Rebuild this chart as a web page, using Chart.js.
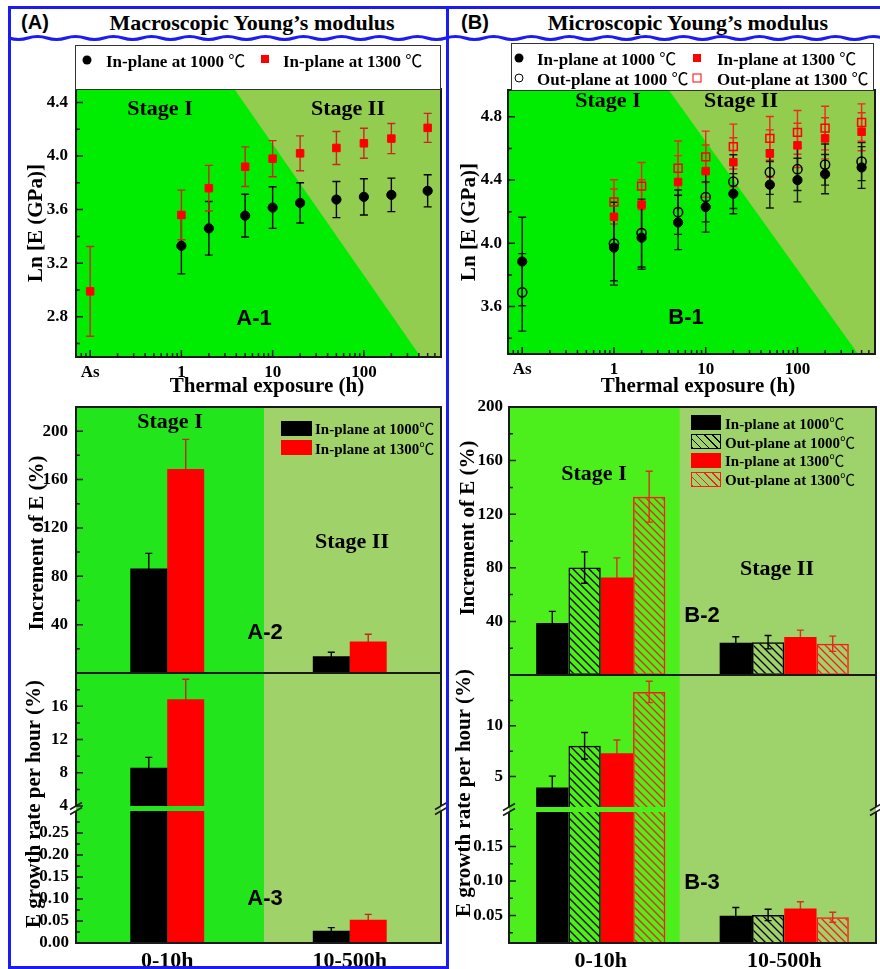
<!DOCTYPE html>
<html><head><meta charset="utf-8">
<title>Young's modulus evolution under thermal exposure</title>
<script src="https://cdn.jsdelivr.net/npm/chart.js@4.4.1/dist/chart.umd.min.js"></script>
<style>
html,body{margin:0;padding:0;background:#fff;}
body{position:relative;width:880px;height:969px;overflow:hidden;font-family:"Liberation Serif","Times New Roman",serif;}
canvas{position:absolute;z-index:1;}
.t{position:absolute;z-index:3;white-space:nowrap;font-weight:bold;color:#000;line-height:1;transform:translate(-50%,-50%);}
.v{transform:translate(-50%,-50%) rotate(-90deg);}
.sans{font-family:"Liberation Sans",Arial,sans-serif;}
.box{position:absolute;z-index:2;background:#fff;border:1.5px solid #333;box-sizing:border-box;}
.blue{position:absolute;z-index:4;background:#1c1cf2;}
.lg{position:absolute;z-index:3;font-weight:bold;white-space:nowrap;line-height:1;transform:translateY(-50%);color:#000;}
.mk{position:absolute;z-index:3;box-sizing:border-box;transform:translate(-50%,-50%);}
.sw{position:absolute;z-index:3;box-sizing:border-box;}
.deg{font-family:"Noto Sans CJK SC",sans-serif;font-weight:normal;}
</style></head><body>
<svg style="position:absolute;left:0;top:0;z-index:4" width="880" height="60">
  <path id="wave" fill="none" stroke="#1c1cf2" stroke-width="3"></path>
</svg>
<script>
// ---------- data ----------
const AS = 0.1; // as-received state, placed one decade below 1 h
const timeTicks = [AS, 1, 10, 100];
const timeMinor = [0.08, 0.09, 0.2, 0.3, 0.4, 0.5, 0.6, 0.7, 0.8, 0.9, 2, 3, 4, 5, 6, 7, 8, 9,
                   20, 30, 40, 50, 60, 70, 80, 90, 200, 300, 400, 500, 600];

// (A) macroscopic, ln E
const namesA = ['In-plane at 1000 ℃', 'In-plane at 1300 ℃'];
const hoursA1000 = [1, 2, 5, 10, 20, 50, 100, 200, 500];
const lnA1000 = [3.33, 3.46, 3.555, 3.615, 3.65, 3.675, 3.695, 3.71, 3.74];
const lnA1000Err = [0.21, 0.2, 0.16, 0.155, 0.15, 0.135, 0.135, 0.125, 0.12];
const hoursA1300 = [AS, 1, 2, 5, 10, 20, 50, 100, 200, 500];
const lnA1300 = [2.99, 3.56, 3.76, 3.92, 3.98, 4.02, 4.06, 4.095, 4.13, 4.21];
const lnA1300Err = [0.335, 0.185, 0.17, 0.148, 0.135, 0.13, 0.123, 0.112, 0.112, 0.108];

// (B) microscopic, ln E
const namesB = ['In-plane at 1000 ℃', 'Out-plane at 1000 ℃', 'In-plane at 1300 ℃', 'Out-plane at 1300 ℃'];
const hoursB1000 = [AS, 1, 2, 5, 10, 20, 50, 100, 200, 500];
const lnBIn1000 = [3.885, 3.973, 4.036, 4.132, 4.23, 4.314, 4.371, 4.40, 4.438, 4.48];
const lnBIn1000Err = [0.28, 0.21, 0.2, 0.172, 0.159, 0.127, 0.147, 0.138, 0.124, 0.132];
const lnBOut1000 = [3.69, 3.998, 4.065, 4.197, 4.293, 4.39, 4.45, 4.469, 4.498, 4.517];
const lnBOut1000Err = [0.245, 0.262, 0.215, 0.14, 0.157, 0.17, 0.14, 0.135, 0.13, 0.12];
const hoursB1300 = [1, 2, 5, 10, 20, 50, 100, 200, 500];
const lnBIn1300 = [4.168, 4.245, 4.388, 4.457, 4.513, 4.568, 4.62, 4.664, 4.706];
const lnBIn1300Err = [0.176, 0.157, 0.167, 0.165, 0.155, 0.15, 0.14, 0.13, 0.12];
const lnBOut1300 = [4.262, 4.362, 4.475, 4.547, 4.612, 4.664, 4.702, 4.729, 4.764];
const lnBOut1300Err = [0.14, 0.149, 0.172, 0.163, 0.142, 0.138, 0.138, 0.138, 0.118];

// increment of E (%) and growth rate per hour (%) by stage
const periods = ['0-10h', '10-500h'];
const namesA2 = ['In-plane at 1000℃', 'In-plane at 1300℃'];
const incA = [[86.4, 13.9], [168.7, 26]];
const incAErr = [[12.5, 3.3], [24.5, 6]];
const rateA = [[8.6, 0.028], [16.85, 0.053]];
const rateAErr = [[1.25, 0.007], [2.4, 0.012]];

const namesB2 = ['In-plane at 1000℃', 'Out-plane at 1000℃', 'In-plane at 1300℃', 'Out-plane at 1300℃'];
const incB = [[38.8, 24.05], [80.2, 24.5], [72.7, 28.3], [133.1, 23.3]];
const incBErr = [[8.7, 4.5], [11.7, 5], [14.7, 5.2], [19, 5.7]];
const rateB = [[3.91, 0.0497], [8.03, 0.0507], [7.3, 0.0599], [13.33, 0.0474]];
const rateBErr = [[1.13, 0.0117], [1.3, 0.0083], [1.3, 0.01], [1.05, 0.0073]];

// stage I / stage II boundaries (time at top and bottom of the ln E axis; category split)
const stageA1 = [3.8, 420];
const stageB1 = [3.96, 457];
const splitA = 0.53;
const splitB = 0.43;

// ---------- styling ----------
const SERIF = '"Liberation Serif", "Times New Roman", serif';
const BG_A1 = ['#00ec00', '#92cd50'];
const BG_A = ['#22e51b', '#9fd36a'];
const BG_B = ['#4cef1c', '#9dd36a'];

function hatch(color) {
  const s = 8, c = document.createElement('canvas');
  c.width = c.height = s;
  const g = c.getContext('2d');
  g.strokeStyle = color; g.lineWidth = 1.3;
  g.beginPath();
  g.moveTo(0, 0); g.lineTo(s, s);
  g.moveTo(-2, s - 2); g.lineTo(2, s + 2);
  g.moveTo(s - 2, -2); g.lineTo(s + 2, 2);
  g.stroke();
  return g.createPattern(c, 'repeat');
}
const hatchBlack = hatch('#000');
const hatchRed = hatch('#ff1a1a');

// background stages, error bars, frame, inward ticks, axis breaks
const deco = {
  id: 'deco',
  beforeDraw(chart, _a, o) {
    if (!o.bg) return;
    const {ctx, chartArea: a, scales: {x}} = chart;
    const bottom = a.bottom + (o.extend || 0);
    ctx.save();
    ctx.fillStyle = o.bg[0];
    ctx.fillRect(a.left, a.top, a.right - a.left, bottom - a.top);
    ctx.fillStyle = o.bg[1];
    ctx.beginPath();
    if (o.diagonal) {
      const xt = x.getPixelForValue(o.diagonal[0]);
      const xb = x.getPixelForValue(o.diagonal[1]);
      ctx.moveTo(xt, a.top); ctx.lineTo(a.right, a.top);
      ctx.lineTo(a.right, a.bottom); ctx.lineTo(xb, a.bottom);
      ctx.closePath();
    } else {
      const xs = x.getPixelForValue(o.split);
      ctx.rect(xs, a.top, a.right - xs, bottom - a.top);
    }
    ctx.fill();
    ctx.restore();
  },
  beforeDatasetsDraw(chart, _a, o) {
    const {ctx, chartArea: a, scales: {y}} = chart;
    ctx.save();
    ctx.beginPath();
    ctx.rect(a.left, a.top, a.right - a.left, a.bottom - a.top);
    ctx.clip();
    chart.data.datasets.forEach((ds, i) => {
      if (!ds.errors) return;
      const meta = chart.getDatasetMeta(i);
      ctx.strokeStyle = ds.errColor;
      ctx.lineWidth = o.errWidth || 1.4;
      const c = o.cap || 4;
      meta.data.forEach((el, j) => {
        const d = ds.data[j];
        const v = typeof d === 'number' ? d : d.y;
        const e = ds.errors[j];
        const yt = y.getPixelForValue(v + e), yb = y.getPixelForValue(v - e), cx = el.x;
        ctx.beginPath();
        ctx.moveTo(cx, yt); ctx.lineTo(cx, yb);
        ctx.moveTo(cx - c, yt); ctx.lineTo(cx + c, yt);
        ctx.moveTo(cx - c, yb); ctx.lineTo(cx + c, yb);
        ctx.stroke();
      });
    });
    ctx.restore();
  },
  afterDatasetsDraw(chart, _a, o) {
    const {ctx, chartArea: a, scales: {x, y}} = chart;
    const sides = o.sides || 'tlbr';
    ctx.save();
    ctx.strokeStyle = '#1a1a1a';
    ctx.lineWidth = 2;
    ctx.beginPath();
    if (sides.includes('t')) { ctx.moveTo(a.left - 1, a.top); ctx.lineTo(a.right + 1, a.top); }
    if (sides.includes('b')) { ctx.moveTo(a.left - 1, a.bottom); ctx.lineTo(a.right + 1, a.bottom); }
    if (sides.includes('l')) { ctx.moveTo(a.left, a.top); ctx.lineTo(a.left, a.bottom); }
    if (sides.includes('r')) { ctx.moveTo(a.right, a.top); ctx.lineTo(a.right, a.bottom); }
    ctx.stroke();
    ctx.lineWidth = 1.5;
    ctx.beginPath();
    const yMajor = o.yMajor || [];
    y.ticks.forEach(t => {
      const py = y.getPixelForValue(t.value);
      const len = yMajor.includes(t.value) ? 7 : 4;
      ctx.moveTo(a.left, py); ctx.lineTo(a.left + len, py);
    });
    (o.xMajor || []).forEach(v => {
      const px = x.getPixelForValue(v);
      ctx.moveTo(px, a.bottom); ctx.lineTo(px, a.bottom - 7);
    });
    (o.xMinor || []).forEach(v => {
      const px = x.getPixelForValue(v);
      ctx.moveTo(px, a.bottom); ctx.lineTo(px, a.bottom - 4);
    });
    ctx.stroke();
    if (o.breakGap) {
      const yc = a.top - o.breakGap / 2;
      ctx.lineWidth = 1.6;
      ctx.beginPath();
      [a.left, a.right].forEach(px => {
        for (const dy of [-2.5, 2.5]) {
          ctx.moveTo(px - 6, yc + dy + 3.5); ctx.lineTo(px + 6, yc + dy - 3.5);
        }
      });
      ctx.stroke();
    }
    ctx.restore();
  }
};
Chart.register(deco);

function place(plot, axW, axH, padTop, padRight, config) {
  const [l, t, r, b] = plot;
  const w = axW + (r - l) + padRight, h = padTop + (b - t) + axH;
  const cv = document.createElement('canvas');
  cv.width = w; cv.height = h;
  cv.style.left = (l - axW) + 'px';
  cv.style.top = (t - padTop) + 'px';
  cv.style.width = w + 'px';
  cv.style.height = h + 'px';
  document.body.appendChild(cv);
  config.options.layout = {autoPadding: false, padding: {top: padTop, right: padRight, left: 0, bottom: 0}};
  return new Chart(cv, config);
}

function opts(scales, decoOpts) {
  return {
    responsive: false, animation: false, events: [],
    plugins: {legend: {display: false}, tooltip: {enabled: false}, deco: decoOpts},
    scales
  };
}

// axis sizes are fixed so that every plot area lands on its own frame
function fixY(w) {
  return s => { s.width = w; s.paddingTop = 0; s.paddingBottom = 0; };
}
function fixX(h) {
  return s => { s.height = h; s.paddingLeft = 0; s.paddingRight = 0; };
}

function yAxis(min, max, major, minor, w, pad, fmt) {
  const all = major.concat(minor).sort((p, q) => p - q);
  return {
    type: 'linear', position: 'left', min, max,
    afterFit: fixY(w),
    afterBuildTicks: s => { s.ticks = all.map(v => ({value: v})); },
    grid: {display: false, drawTicks: false}, border: {display: false},
    ticks: {callback: v => major.includes(v) ? fmt(v) : '', autoSkip: false, padding: pad,
            color: '#000', font: {family: SERIF, size: 17, weight: 'bold'}}
  };
}

function logAxis(h) {
  return {
    type: 'logarithmic', position: 'bottom', min: 0.07, max: 700,
    afterFit: fixX(h),
    afterBuildTicks: s => { s.ticks = timeTicks.map(v => ({value: v})); },
    grid: {display: false, drawTicks: false}, border: {display: false},
    ticks: {callback: v => v === AS ? 'As' : String(v), autoSkip: false, maxRotation: 0, padding: 5,
            color: '#000', font: {family: SERIF, size: 17, weight: 'bold'}}
  };
}

function catAxis(h, show) {
  return {
    type: 'category', position: 'bottom', offset: true,
    afterFit: fixX(h),
    grid: {display: false, drawTicks: false}, border: {display: false},
    ticks: {display: show, autoSkip: false, maxRotation: 0, padding: 5,
            color: '#000', font: {family: SERIF, size: 22, weight: 'bold'}}
  };
}

const pts = (xs, ys) => xs.map((v, i) => ({x: v, y: ys[i]}));
const f1 = v => v.toFixed(1);
const f2 = v => v.toFixed(2);
const f0 = v => String(v);

// ---------- A-1 ----------
const yA1 = [2.8, 3.2, 3.6, 4.0, 4.4];
place([76, 89, 441, 357], 76, 30, 12, 6, {
  type: 'scatter',
  data: {datasets: [
    {label: namesA[0], data: pts(hoursA1000, lnA1000), errors: lnA1000Err, errColor: '#000',
     pointStyle: 'circle', pointRadius: 4.6, backgroundColor: '#000', borderColor: '#000'},
    {label: namesA[1], data: pts(hoursA1300, lnA1300), errors: lnA1300Err, errColor: '#c8281e',
     pointStyle: 'rect', pointRadius: 5.3, backgroundColor: '#ff0000', borderColor: '#ff0000'}
  ]},
  options: opts({x: logAxis(30), y: yAxis(2.5, 4.5, yA1, [2.6, 3.0, 3.4, 3.8, 4.2], 76, 8, f1)},
    {bg: BG_A1, diagonal: stageA1, yMajor: yA1, xMajor: timeTicks, xMinor: timeMinor, cap: 4})
});

// ---------- B-1 ----------
const yB1 = [3.6, 4.0, 4.4, 4.8];
place([508, 90, 875, 354], 62, 30, 12, 5, {
  type: 'scatter',
  data: {datasets: [
    {label: namesB[3], data: pts(hoursB1300, lnBOut1300), errors: lnBOut1300Err, errColor: '#ee2a1e',
     pointStyle: 'rect', pointRadius: 5.6, pointBorderWidth: 1.5, backgroundColor: 'rgba(0,0,0,0)', borderColor: '#ff0000'},
    {label: namesB[2], data: pts(hoursB1300, lnBIn1300), errors: lnBIn1300Err, errColor: '#ee2a1e',
     pointStyle: 'rect', pointRadius: 5.3, backgroundColor: '#ff0000', borderColor: '#ff0000'},
    {label: namesB[1], data: pts(hoursB1000, lnBOut1000), errors: lnBOut1000Err, errColor: '#101810',
     pointStyle: 'circle', pointRadius: 4.6, pointBorderWidth: 1.5, backgroundColor: 'rgba(0,0,0,0)', borderColor: '#000'},
    {label: namesB[0], data: pts(hoursB1000, lnBIn1000), errors: lnBIn1000Err, errColor: '#101810',
     pointStyle: 'circle', pointRadius: 4.6, backgroundColor: '#000', borderColor: '#000'}
  ]},
  options: opts({x: logAxis(30), y: yAxis(3.3, 4.97, yB1, [3.4, 3.8, 4.2, 4.6], 62, 6, f1)},
    {bg: BG_A1, diagonal: stageB1, yMajor: yB1, xMajor: timeTicks, xMinor: timeMinor, cap: 4})
});

// ---------- bar panels ----------
const solidA = [
  {backgroundColor: '#000', errColor: '#000'},
  {backgroundColor: '#ff0000', errColor: '#c0281c'}
];
const styleB = [
  {backgroundColor: '#000', borderWidth: 0, errColor: '#000'},
  {backgroundColor: hatchBlack, borderColor: '#000', borderWidth: 1.5, errColor: '#000'},
  {backgroundColor: '#ff0000', borderWidth: 0, errColor: '#d83020'},
  {backgroundColor: hatchRed, borderColor: '#ff1a1a', borderWidth: 1.5, errColor: '#d83020'}
];

function barSets(names, vals, errs, styles, catPct) {
  return names.map((n, i) => Object.assign({
    label: n, data: vals[i], errors: errs[i],
    categoryPercentage: catPct, barPercentage: 1, borderSkipped: false
  }, styles[i]));
}

// A-2
const yA2 = [40, 80, 120, 160, 200];
place([76, 407, 441, 673], 76, 0, 12, 6, {
  type: 'bar',
  data: {labels: periods, datasets: barSets(namesA2, incA, incAErr, solidA, 0.405)},
  options: opts({x: catAxis(0, false), y: yAxis(0, 220, yA2, [20, 60, 100, 140, 180], 76, 8, f0)},
    {bg: BG_A, split: splitA, yMajor: yA2, cap: 3.5})
});
// A-3 upper segment
const yA3u = [4, 8, 12, 16];
place([76, 673, 441, 806], 76, 5, 12, 6, {
  type: 'bar',
  data: {labels: periods, datasets: barSets(namesA2, rateA, rateAErr, solidA, 0.405)},
  options: opts({x: catAxis(5, false), y: yAxis(4, 20, yA3u, [6, 10, 14, 18], 76, 8, f0)},
    {bg: BG_A, split: splitA, extend: 5, sides: 'tlr', yMajor: yA3u, cap: 3.5})
});
// A-3 lower segment
const yA3l = [0, 0.05, 0.1, 0.15, 0.2, 0.25];
place([76, 811, 441, 943], 76, 30, 12, 6, {
  type: 'bar',
  data: {labels: periods, datasets: barSets(namesA2, rateA, rateAErr, solidA, 0.405)},
  options: opts({x: catAxis(30, true),
    y: yAxis(0, 0.3, yA3l, [0.025, 0.075, 0.125, 0.175, 0.225, 0.275], 76, 7, f2)},
    {bg: BG_A, split: splitA, sides: 'lbr', breakGap: 5, yMajor: yA3l, cap: 3.5})
});

// B-2
const yB2 = [40, 80, 120, 160, 200];
place([509, 407, 876, 675], 62, 0, 12, 4, {
  type: 'bar',
  data: {labels: periods, datasets: barSets(namesB2, incB, incBErr, styleB, 0.704)},
  options: opts({x: catAxis(0, false), y: yAxis(0, 200, yB2, [20, 60, 100, 140, 180], 62, 6, f0)},
    {bg: BG_B, split: splitB, yMajor: yB2, cap: 3.5})
});
// B-3 upper segment
const yB3u = [5, 10];
place([509, 675, 876, 807], 62, 5, 12, 4, {
  type: 'bar',
  data: {labels: periods, datasets: barSets(namesB2, rateB, rateBErr, styleB, 0.704)},
  options: opts({x: catAxis(5, false), y: yAxis(2, 15, yB3u, [7.5, 12.5], 62, 6, f0)},
    {bg: BG_B, split: splitB, extend: 5, sides: 'tlr', yMajor: yB3u, cap: 3.5})
});
// B-3 lower segment
const yB3l = [0.05, 0.1, 0.15];
place([509, 812, 876, 943], 62, 30, 12, 4, {
  type: 'bar',
  data: {labels: periods, datasets: barSets(namesB2, rateB, rateBErr, styleB, 0.704)},
  options: opts({x: catAxis(30, true), y: yAxis(0.01, 0.2, yB3l, [0.025, 0.075, 0.125, 0.175], 62, 6, f2)},
    {bg: BG_B, split: splitB, sides: 'lbr', breakGap: 5, yMajor: yB3l, cap: 3.5})
});

// ---------- text, legends, frame ----------
function el(cls, html, css) {
  const d = document.createElement('div');
  d.className = cls;
  d.innerHTML = html.replace(/℃/g, '<span class="deg">℃</span>');
  d.style.cssText = css;
  document.body.appendChild(d);
  return d;
}
const txt = (s, x, y, size, extra = '') => el('t ' + extra, s, `left:${x}px;top:${y}px;font-size:${size}px`);

// headers
txt('(A)', 35, 22, 20, 'sans');
txt('Macroscopic Young’s modulus', 252, 23, 22);
txt('(B)', 475, 22, 20, 'sans');
txt('Microscopic Young’s modulus', 688, 23, 22);

// axis titles
txt('Ln [E (GPa)]', 35, 223, 21, 'v');
txt('Ln [E (GPa)]', 468, 222, 21, 'v');
txt('Thermal exposure (h)', 267, 385, 21);
txt('Thermal exposure (h)', 698, 385, 21);
txt('Increment of E (%)', 36, 543, 21, 'v');
txt('Increment of E (%)', 467, 528, 21, 'v');
txt('E growth rate per hour (%)', 33, 804, 21, 'v');
txt('E growth rate per hour (%)', 463, 793, 21, 'v');

// stage labels
txt('Stage I', 160, 108, 22); txt('Stage II', 348, 108, 22);
txt('Stage I', 608, 100, 22); txt('Stage II', 741, 100, 22);
txt('Stage I', 170, 421, 22); txt('Stage II', 352, 541, 22);
txt('Stage I', 594, 473, 22); txt('Stage II', 777, 568, 22);

// panel tags
txt('A-1', 254, 318, 22, 'sans'); txt('B-1', 686, 317, 22, 'sans');
txt('A-2', 265, 632, 22, 'sans'); txt('B-2', 702, 615, 22, 'sans');
txt('A-3', 265, 898, 22, 'sans'); txt('B-3', 702, 882, 22, 'sans');

// legend boxes above the ln E panels
el('box', '', 'left:75px;top:45px;width:366px;height:45px');
el('mk', '', 'left:87px;top:60px;width:9px;height:9px;border-radius:50%;background:#000');
el('lg', namesA[0], 'left:106px;top:60px;font-size:17px');
el('mk', '', 'left:265px;top:59px;width:8px;height:8px;background:#ff0000');
el('lg', namesA[1], 'left:283px;top:60px;font-size:17px');

el('box', '', 'left:511px;top:43px;width:363px;height:48px');
el('mk', '', 'left:519px;top:58px;width:9px;height:9px;border-radius:50%;background:#000');
el('lg', namesB[0], 'left:537px;top:58px;font-size:17px');
el('mk', '', 'left:519px;top:78px;width:9px;height:9px;border-radius:50%;border:1.5px solid #000');
el('lg', namesB[1], 'left:537px;top:78px;font-size:17px');
el('mk', '', 'left:697px;top:58px;width:8px;height:8px;background:#ff0000');
el('lg', namesB[2], 'left:717px;top:58px;font-size:17px');
el('mk', '', 'left:697px;top:78px;width:9px;height:9px;border:1.5px solid #ff0000');
el('lg', namesB[3], 'left:717px;top:78px;font-size:17px');

// legends inside the increment panels
el('sw', '', 'left:281px;top:421px;width:31px;height:15px;background:#000');
el('lg', namesA2[0], 'left:315px;top:428px;font-size:15px');
el('sw', '', 'left:281px;top:440px;width:31px;height:15px;background:#ff0000');
el('lg', namesA2[1], 'left:315px;top:448px;font-size:15px');

const hatchCss = c => `background:repeating-linear-gradient(45deg, ${c} 0 1.3px, transparent 1.3px 5.7px);border:1.5px solid ${c}`;
const swB = ['background:#000', hatchCss('#000'), 'background:#ff0000', hatchCss('#ff1a1a')];
const rowB = [422.5, 441.5, 460, 479];
namesB2.forEach((n, i) => {
  el('sw', '', `left:691px;top:${rowB[i] - 7.5}px;width:30px;height:15px;${swB[i]}`);
  el('lg', n, `left:725px;top:${rowB[i]}px;font-size:15px`);
});

// blue frame
el('blue', '', 'left:8px;top:6px;width:872px;height:3px');
el('blue', '', 'left:8px;top:6px;width:3px;height:963px');
el('blue', '', 'left:446px;top:6px;width:2.5px;height:963px');
el('blue', '', 'left:8px;top:966px;width:440px;height:3px');

// wavy rule under the headers
let d = 'M9 38';
for (let x = 9; x < 880; x += 38) d += ' q 9.5 3 19 0 q 9.5 -3 19 0';
document.getElementById('wave').setAttribute('d', d);
</script>
</body></html>
